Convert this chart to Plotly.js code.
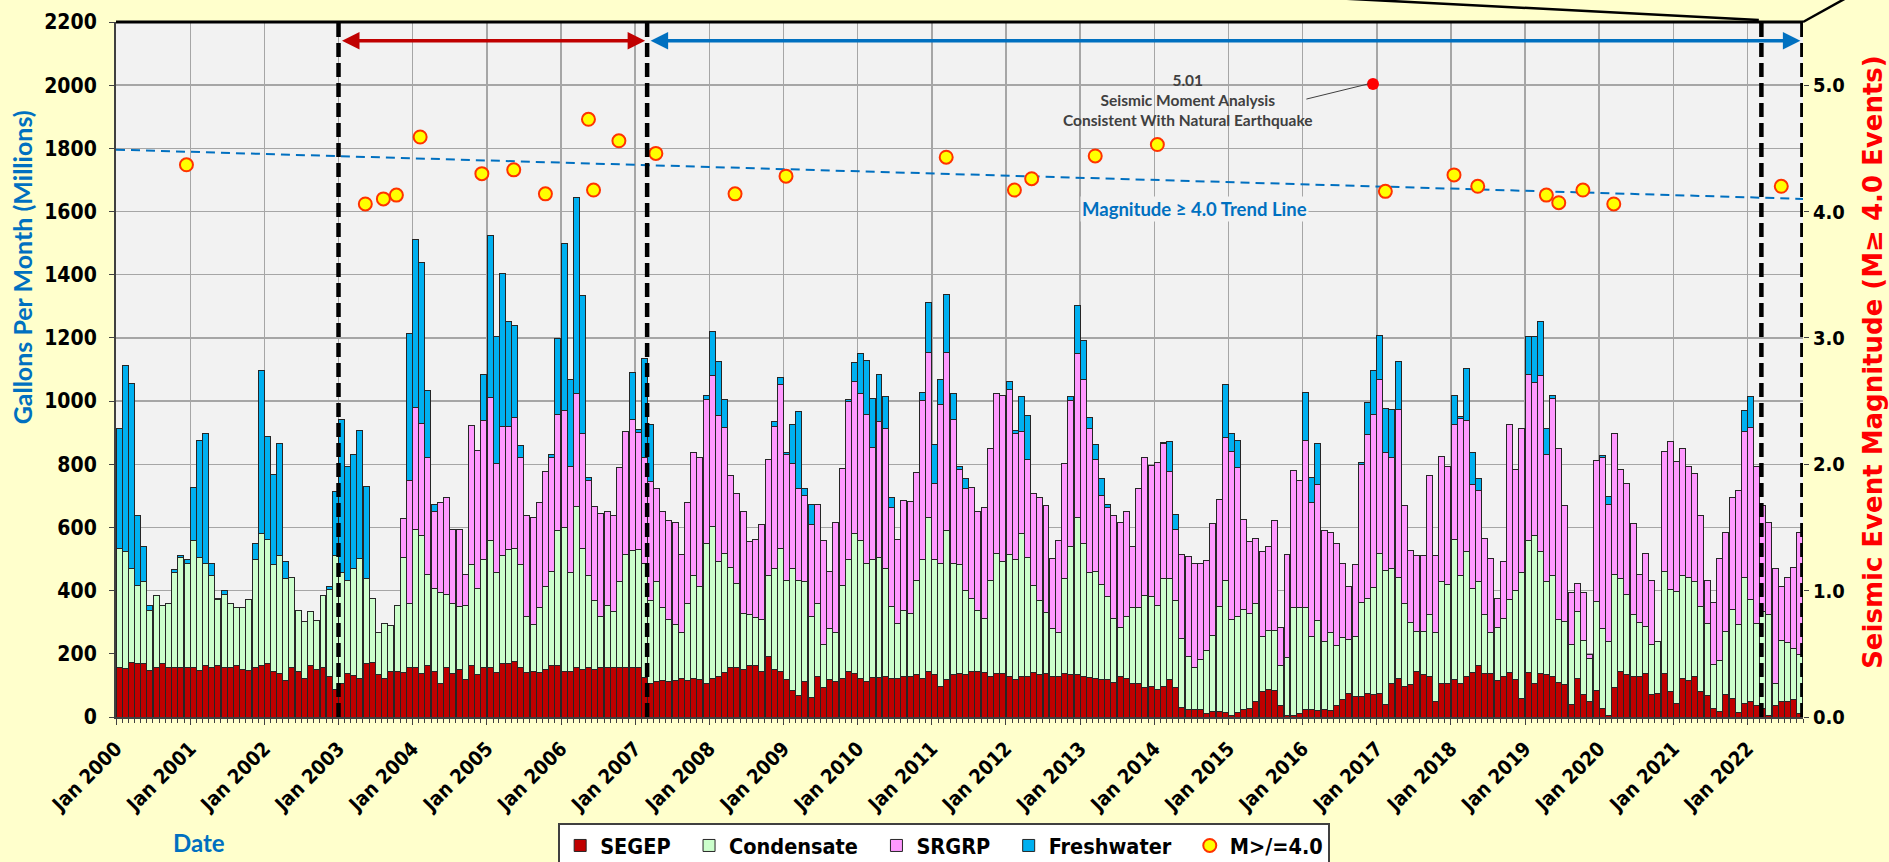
<!DOCTYPE html>
<html><head><meta charset="utf-8">
<script src="https://cdn.plot.ly/plotly-3.0.1.min.js"></script>
<style>html,body{margin:0;padding:0;background:#FFFFCC;overflow:hidden}#chart{width:1889px;height:862px}</style>
</head><body><div id="chart"></div>
<script>
// Monthly series, Jan 2000 .. Sep 2022 (273 months), millions of gallons per month
const firstYear = 2000;
const monthCount = 273;
const SEGEP = [
156,152,173,169,169,148,156,169,156,158,156,156,
156,148,164,156,164,158,156,162,150,148,156,162,
169,145,138,115,156,145,123,162,150,158,129,87,
105,138,132,121,169,172,134,121,145,145,142,156,
156,137,164,145,105,156,138,150,118,162,133,156,
156,141,169,169,177,158,141,145,141,150,162,162,
145,145,156,150,158,150,158,158,156,158,158,156,
158,125,107,111,115,111,115,121,115,121,118,105,
121,129,142,156,158,150,162,162,145,192,150,145,
118,85,67,111,62,129,94,118,111,121,145,138,
121,111,125,125,129,123,123,129,129,134,123,145,
134,97,118,134,138,134,145,145,141,129,138,138,
129,118,129,129,141,133,137,129,129,138,134,134,
129,125,123,118,118,110,127,123,105,107,94,98,
87,98,118,94,31,24,24,24,11,17,17,13,
4,13,24,27,48,82,87,83,38,4,4,11,
24,24,21,24,20,38,54,75,64,64,75,70,
75,40,105,123,98,102,145,133,129,48,105,105,
118,105,129,141,162,137,137,115,129,141,118,58,
141,105,137,133,129,110,102,40,123,70,48,83,
27,4,94,145,133,129,129,138,70,75,138,81,
44,123,115,129,81,67,27,17,70,58,13,44,
48,35,27,4,35,48,48,54,11];
const Condensate = [
378,371,297,247,260,189,230,185,204,298,349,331,
402,357,323,291,209,231,204,184,196,225,341,419,
392,338,372,325,287,192,179,171,156,228,274,423,
351,295,338,380,271,204,132,176,144,208,363,204,
439,437,286,262,288,233,222,199,236,321,274,341,
402,315,341,361,357,325,178,148,205,262,298,428,
454,311,510,384,289,218,161,196,177,271,356,371,
373,362,263,318,231,198,178,145,245,326,295,445,
483,362,376,318,266,179,161,153,164,255,320,389,
315,385,366,318,257,231,135,161,155,295,352,443,
437,376,372,380,341,226,174,208,200,299,374,488,
363,390,472,353,345,266,231,191,172,304,380,353,
385,379,452,376,275,237,193,150,137,300,407,499,
421,331,337,302,262,203,156,196,241,239,290,282,
266,342,322,276,219,168,134,159,198,242,332,420,
305,304,316,302,312,174,188,192,124,185,342,335,
322,232,285,215,246,187,198,171,192,300,301,341,
443,424,365,320,262,197,125,137,194,218,324,315,
443,342,394,266,267,189,129,168,184,232,282,398,
417,469,386,296,318,199,201,189,212,173,137,283,
252,235,357,292,256,197,170,148,158,164,322,322,
353,324,328,300,268,230,138,161,200,282,280,399,
325,262,308,322,70,195,187,162,188];
const SRGRP = [
0,0,0,0,0,0,0,0,0,0,0,0,
0,0,0,0,0,0,0,0,0,0,0,0,
0,0,0,0,0,0,0,0,0,0,0,0,
0,0,0,0,0,0,0,0,0,0,123,389,
385,356,370,245,285,306,235,246,97,440,436,442,
453,346,411,391,413,340,320,340,332,364,363,367,
370,336,357,362,302,298,325,298,306,360,389,416,
371,336,375,293,306,312,322,248,319,389,407,454,
478,462,399,292,285,323,231,246,299,369,451,517,
399,332,289,273,289,312,329,181,351,370,503,482,
466,470,356,429,443,315,264,349,353,340,504,522,
242,501,564,456,299,322,349,315,349,417,505,526,
523,402,322,311,293,325,338,222,292,365,460,518,
518,457,356,282,284,326,332,333,195,376,436,416,
452,426,338,225,264,315,329,304,285,352,339,453,
530,472,285,225,204,269,266,346,120,325,434,403,
530,422,429,351,319,325,235,167,227,434,518,546,
550,372,353,530,308,228,240,240,443,244,396,373,
365,499,416,328,289,238,235,93,178,553,385,457,
526,484,557,403,560,541,365,164,89,150,14,446,
541,433,448,345,350,285,152,232,205,0,380,469,
412,403,350,343,290,136,199,323,315,355,425,460,
544,496,333,289,365,170,208,258,386];
const Freshwater = [
378,591,587,223,112,15,0,0,0,11,6,10,
169,369,409,40,3,11,0,0,0,0,53,517,
327,285,356,51,0,0,0,0,0,0,10,203,
487,359,362,406,291,0,0,0,0,0,0,466,
531,509,213,20,0,0,0,0,0,0,0,145,
513,403,483,332,293,36,0,0,0,0,9,240,
529,275,621,439,9,0,0,0,0,0,0,147,
8,311,181,0,0,0,0,0,0,0,0,15,
137,172,87,0,0,0,0,0,0,0,13,23,
4,124,244,20,64,0,0,0,0,0,4,59,
127,173,156,150,102,31,0,0,0,0,27,157,
124,80,185,80,10,34,0,0,0,0,0,0,
26,8,112,137,0,0,0,0,0,0,14,151,
124,34,47,54,8,0,0,0,0,0,0,0,
0,4,94,46,0,0,0,0,0,0,0,167,
57,85,0,0,0,0,0,0,0,0,0,0,
152,80,132,0,0,0,0,0,0,7,103,141,
141,141,150,152,0,0,0,0,0,0,0,0,
91,4,163,101,38,0,0,0,0,0,0,0,
121,147,173,81,10,0,0,0,0,0,0,0,
9,27,0,0,0,0,0,0,0,0,0,0,
0,0,0,0,0,0,0,0,0,0,0,66,
98,0,0,0,0,0,0,0,0];

// Seismic events M >= 4.0 (right axis)
const quakeDates = ['2000-12-13','2003-05-13','2003-08-10','2003-10-13','2004-02-07','2004-12-07',
 '2005-05-13','2005-10-16','2006-05-16','2006-06-10','2006-10-13','2007-04-13','2008-05-07',
 '2009-01-13','2011-03-13','2012-02-12','2012-05-07','2013-03-16','2014-01-16','2017-02-12',
 '2018-01-16','2018-05-13','2019-04-16','2019-06-16','2019-10-13','2020-03-13','2022-06-16'];
const quakeMagnitudes = [4.37,4.06,4.10,4.13,4.59,4.30,4.33,4.14,4.73,4.17,4.56,4.46,4.14,
 4.28,4.43,4.17,4.26,4.44,4.53,4.16,4.29,4.20,4.13,4.07,4.17,4.06,4.20];
const bigQuakeDate = ['2016-12-13'];
const bigQuakeMagnitude = [5.01];
const trendDates = ['2000-01-01','2022-10-01'];
const trendMagnitudes = [4.49, 4.10];

const yearTickDates = ['2000-01-01','2001-01-01','2002-01-01','2003-01-01','2004-01-01','2005-01-01',
 '2006-01-01','2007-01-01','2008-01-01','2009-01-01','2010-01-01','2011-01-01','2012-01-01',
 '2013-01-01','2014-01-01','2015-01-01','2016-01-01','2017-01-01','2018-01-01','2019-01-01',
 '2020-01-01','2021-01-01','2022-01-01'];
const yearTickLabels = ['Jan 2000','Jan 2001','Jan 2002','Jan 2003','Jan 2004','Jan 2005','Jan 2006',
 'Jan 2007','Jan 2008','Jan 2009','Jan 2010','Jan 2011','Jan 2012','Jan 2013','Jan 2014','Jan 2015',
 'Jan 2016','Jan 2017','Jan 2018','Jan 2019','Jan 2020','Jan 2021','Jan 2022'];
const periodMarks = ['2003-01-01','2007-03-01','2022-03-10','2022-09-28'];

const months = [];
for (let i = 0; i < monthCount; i++) {
  const y = firstYear + Math.floor(i / 12), m = (i % 12) + 1;
  months.push(y + '-' + (m < 10 ? '0' + m : m) + '-01');
}

const NARROW = '"Liberation Sans Narrow","DejaVu Sans Condensed","Arial Narrow",sans-serif';
const TITLEF = 'Lato,"Open Sans",sans-serif';
const WIDE = '"DejaVu Sans",Verdana,sans-serif';
const SP = '\u00A0\u00A0';
const outline = {color: '#262626', width: 1};
function barTrace(name, vals, color) {
  return {type: 'bar', name: name + SP, x: months, y: vals, xperiod: 'M1', xperiodalignment: 'middle',
    marker: {color: color, line: outline}, hoverinfo: 'skip'};
}
const traces = [
  barTrace('SEGEP', SEGEP, '#C00000'),
  barTrace('Condensate', Condensate, '#CCFFCC'),
  barTrace('SRGRP', SRGRP, '#FF99FF'),
  barTrace('Freshwater', Freshwater, '#00B0F0'),
  {type: 'scatter', mode: 'lines', x: trendDates, y: trendMagnitudes, yaxis: 'y2', showlegend: false,
   line: {color: '#0070C0', width: 2, dash: '9px,6px'}, hoverinfo: 'skip'},
  {type: 'scatter', mode: 'markers', name: 'M>/=4.0', x: quakeDates, y: quakeMagnitudes, yaxis: 'y2',
   marker: {color: '#FFFF00', size: 13, line: {color: '#FF3300', width: 2}}, hoverinfo: 'skip'},
  {type: 'scatter', mode: 'markers', x: bigQuakeDate, y: bigQuakeMagnitude, yaxis: 'y2', showlegend: false,
   marker: {color: '#FF0000', size: 12}, hoverinfo: 'skip'}
];

const shapes = periodMarks.map(d => ({type: 'line', xref: 'x', yref: 'paper', x0: d, x1: d, y0: 0, y1: 1.002,
  line: {color: '#000000', width: 4.5, dash: '14px,6px'}, layer: 'above'}));
shapes.push({type: 'line', xref: 'paper', yref: 'paper', x0: 0, x1: 1, y0: 1, y1: 1, line: {color: '#000', width: 3}});
shapes.push({type: 'line', xref: 'paper', yref: 'paper', x0: 0.9738, x1: 0.709, y0: 1.003, y1: 1.036, line: {color: '#000', width: 2.5}});
shapes.push({type: 'line', xref: 'paper', yref: 'paper', x0: 1.0, x1: 1.0267, y0: 1.0, y1: 1.036, line: {color: '#000', width: 2.5}});
shapes.push({type: 'line', xref: 'x', yref: 'y', x0: '2016-01-20', x1: '2016-11-20', y0: 1956, y1: 2004, line: {color: '#404040', width: 1}});

const annotations = [
  {xref: 'x', yref: 'y', axref: 'x', ayref: 'y', x: '2007-03-01', y: 2141, ax: '2003-01-01', ay: 2141, text: '',
   showarrow: true, arrowside: 'end+start', arrowhead: 2, arrowsize: 1, arrowwidth: 3.5, arrowcolor: '#C00000', standoff: 2, startstandoff: 2},
  {xref: 'x', yref: 'y', axref: 'x', ayref: 'y', x: '2022-09-28', y: 2141, ax: '2007-03-01', ay: 2141, text: '',
   showarrow: true, arrowside: 'end+start', arrowhead: 2, arrowsize: 1, arrowwidth: 3.5, arrowcolor: '#0070C0', standoff: 2, startstandoff: 2},
  {xref: 'x', yref: 'y', x: '2014-06-15', y: 1952, xanchor: 'center', yanchor: 'middle',
   text: '5.01<br>Seismic Moment Analysis<br>Consistent With Natural Earthquake',
   showarrow: false, font: {family: TITLEF, size: 15.5, color: '#404040', weight: 'bold'}},
  {xref: 'x', yref: 'y', x: '2014-07-20', y: 1608, xanchor: 'center', yanchor: 'middle', text: 'Magnitude ≥ 4.0 Trend Line', showarrow: false,
   bgcolor: '#F2F2F2', font: {family: TITLEF, size: 18.5, color: '#0070C0', weight: 'bold'}},
  {xref: 'paper', yref: 'paper', x: -0.0557, y: 0.647, xanchor: 'center', yanchor: 'middle', text: 'Gallons Per Month (Millions)', textangle: -90, showarrow: false,
   font: {family: TITLEF, size: 25, color: '#0070C0', weight: 'bold'}},
  {xref: 'paper', yref: 'paper', x: 1.0415, y: 0.511, xanchor: 'center', yanchor: 'middle', text: 'Seismic Event Magnitude (M≥ 4.0 Events)', textangle: -90, showarrow: false,
   font: {family: WIDE, size: 26, color: '#FF0000', weight: 'bold'}},
  {xref: 'paper', yref: 'paper', x: 0.049, y: -0.181, xanchor: 'center', yanchor: 'middle', text: 'Date', showarrow: false,
   font: {family: TITLEF, size: 24, color: '#0070C0', weight: 'bold'}}
];

const layout = {
  width: 1889, height: 862,
  paper_bgcolor: '#FFFFCC', plot_bgcolor: '#F2F2F2',
  margin: {l: 116, r: 86, t: 22, b: 145, autoexpand: false},
  barmode: 'stack', bargap: 0,
  showlegend: true,
  legend: {orientation: 'h', x: 0.2621, y: -0.1525, xanchor: 'left', yanchor: 'top', traceorder: 'normal',
    bgcolor: '#FFFFFF', bordercolor: '#404040', borderwidth: 2,
    font: {family: NARROW, size: 21.5, color: '#000', weight: 'bold'}},
  xaxis: {type: 'date', range: ['2000-01-01', '2022-10-01'], tickmode: 'array', tickvals: yearTickDates, ticktext: yearTickLabels,
    tickangle: -45, tickfont: {family: NARROW, size: 20, color: '#000', weight: 'bold'}, ticklabelstandoff: 4,
    showgrid: true, gridcolor: '#A6A6A6', gridwidth: 1.5, ticks: 'outside', ticklen: 6, tickcolor: '#404040',
    showline: true, linecolor: '#404040', linewidth: 2, zeroline: false,
    minor: {tickmode: 'linear', tick0: '2000-01-01', dtick: 'M1', ticks: 'outside', ticklen: 4, tickcolor: '#404040', showgrid: false}},
  yaxis: {range: [0, 2200], dtick: 200, tickfont: {family: NARROW, size: 21, color: '#000', weight: 'bold'}, ticklabelstandoff: 8,
    showgrid: true, gridcolor: '#A6A6A6', gridwidth: 1.5, ticks: 'outside', ticklen: 5, tickcolor: '#404040',
    showline: true, linecolor: '#404040', linewidth: 2, zeroline: false},
  yaxis2: {overlaying: 'y', side: 'right', range: [0, 5.5], tickvals: [0, 1, 2, 3, 4, 5], tickformat: '.1f',
    tickfont: {family: NARROW, size: 20, color: '#000', weight: 'bold'}, showgrid: false, zeroline: false,
    ticks: 'outside', ticklen: 5, tickcolor: '#404040'},
  shapes: shapes, annotations: annotations
};
Plotly.newPlot('chart', traces, layout, {staticPlot: true, displayModeBar: false});
</script></body></html>
